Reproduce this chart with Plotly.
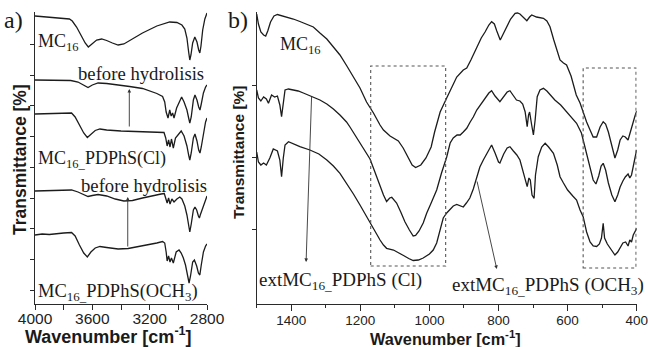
import plotly.graph_objects as go

# ---------------- Panel a) data (wavenumber cm-1, transmittance offset a.u.) ----------------
wn_a1 = [4000, 3950, 3900, 3850, 3800, 3760, 3740, 3710, 3680, 3650, 3628, 3600, 3570, 3535, 3500, 3460,
         3420, 3380, 3330, 3250, 3150, 3060, 3010, 2975, 2955, 2940, 2928, 2920, 2912, 2900, 2885, 2870,
         2858, 2850, 2842, 2830, 2815, 2800]
tr_a1 = [288, 287.5, 287, 286.5, 286, 285, 283, 277, 269, 261, 257, 260, 264, 265, 263.5, 261,
         259, 260, 264, 271, 278, 282, 281.5, 279, 275, 266, 252, 244, 249, 261, 267, 262,
         254, 251, 258, 274, 285, 291]

wn_a2 = [4000, 3900, 3800, 3750, 3700, 3660, 3630, 3600, 3560, 3500, 3400, 3340, 3250, 3200, 3150, 3110,
         3095, 3085, 3072, 3060, 3050, 3040, 3030, 3012, 2990, 2977, 2960, 2940, 2928, 2920, 2910, 2895,
         2884, 2870, 2858, 2849, 2840, 2825, 2810, 2800]
tr_a2 = [224, 224, 224, 223.5, 222, 219, 216.5, 219, 221, 220.5, 219, 217.5, 215.5, 213, 210.5, 207.5,
         202, 192, 186, 194, 188, 191, 186, 196, 204, 207, 202, 194, 186, 181, 187, 204,
         209, 204, 197, 194, 200, 211, 217, 219]

wn_a3 = [4000, 3900, 3800, 3745, 3720, 3690, 3660, 3635, 3610, 3580, 3547, 3500, 3400, 3300, 3200, 3130,
         3100, 3088, 3078, 3068, 3058, 3048, 3035, 3020, 3000, 2980, 2960, 2940, 2928, 2920, 2910, 2895,
         2884, 2870, 2858, 2849, 2840, 2825, 2810, 2800]
tr_a3 = [190, 190.5, 191, 191, 187, 179, 171, 166.5, 170, 173.5, 175, 174, 173, 172.5, 172, 172,
         171.5, 166, 158, 164, 157, 165, 156, 166, 170, 173, 168, 158, 149, 144, 151, 166,
         170, 163, 154, 151, 157, 171, 182, 186]

wn_a4 = [4000, 3900, 3800, 3745, 3700, 3660, 3630, 3600, 3560, 3500, 3440, 3380, 3320, 3250, 3180, 3120,
         3098, 3088, 3078, 3068, 3058, 3045, 3030, 3010, 2990, 2975, 2955, 2940, 2928, 2920, 2910, 2895,
         2884, 2872, 2860, 2853, 2847, 2830, 2815, 2800]
tr_a4 = [113, 113.5, 114, 114, 112, 109, 107.5, 108.5, 109.5, 108, 105, 103, 103.5, 106, 108.5, 110,
         110.5, 105, 101, 106, 100, 105, 102, 105, 107, 105, 98, 89, 78, 72, 80, 94,
         97, 94, 88, 86, 89, 96, 104, 108]

wn_a5 = [4000, 3950, 3900, 3850, 3800, 3745, 3720, 3690, 3660, 3635, 3610, 3580, 3547, 3500, 3420, 3350,
         3250, 3150, 3110, 3095, 3085, 3078, 3068, 3058, 3048, 3035, 3015, 2995, 2980, 2965, 2950, 2935,
         2925, 2915, 2900, 2888, 2872, 2860, 2850, 2840, 2825, 2810, 2800]
tr_a5 = [69, 70, 69.5, 70.5, 71, 71.5, 68, 59, 51, 47, 52, 56, 57.5, 56.5, 55, 55.5,
         58, 61, 62.5, 61, 52, 43, 48, 42, 46, 41, 52, 54, 51, 46, 39, 29,
         21, 28, 42, 44, 38, 31, 29, 39, 52, 58, 60]

# ---------------- Panel b) data ----------------
wn_b1 = [1500, 1495, 1488, 1480, 1474, 1468, 1460, 1450, 1440, 1425, 1410, 1394, 1375, 1355, 1336, 1317,
         1297, 1278, 1259, 1239, 1220, 1201, 1182, 1162, 1143, 1133, 1114, 1100, 1090, 1076, 1060, 1050,
         1040, 1025, 1010, 995, 985, 975, 969, 950, 931, 921, 902, 892, 880, 863, 850, 839,
         828, 820, 812, 805, 795, 785, 776, 765, 752, 745, 738, 728, 718, 710, 704, 690,
         670, 660, 651, 640, 630, 622, 612, 603, 590, 575, 564, 555, 545, 535, 526, 516,
         506, 497, 490, 482, 472, 463, 455, 448, 440, 433, 425, 418, 410, 405, 400]
tr_b1 = [290, 280, 272, 269, 268, 273, 282, 288, 289.5, 288, 287, 285, 282.5, 279.5, 277, 271,
         265, 257, 249, 238, 227, 216, 202, 191, 179, 174, 168, 165, 163, 156, 146, 139,
         136.5, 139, 146, 157, 172, 184, 192, 206, 219, 227, 234, 236, 244, 257, 266, 272,
         279, 282.3, 280, 273, 264, 271, 277.3, 285, 290.7, 291, 290, 287, 283.3, 287, 289, 287,
         285.7, 283, 277.3, 264, 252, 244, 241, 239, 228, 209, 201, 191, 182, 174, 167, 167,
         177, 182.3, 180, 172, 158, 146, 154, 164, 168, 167, 164, 173, 184, 188, 193]

wn_b2 = [1500, 1495, 1488, 1480, 1472, 1466, 1457, 1448, 1440, 1433, 1428, 1423, 1418, 1408, 1394, 1380,
         1365, 1350, 1336, 1317, 1297, 1278, 1259, 1240, 1230, 1215, 1201, 1186, 1172, 1160, 1143, 1133,
         1124, 1115, 1109, 1095, 1083, 1071, 1058, 1047, 1040, 1030, 1018, 1008, 995, 979, 965, 950,
         940, 931, 920, 911, 902, 892, 882, 873, 863, 850, 839, 828, 820, 810, 796, 785,
         775, 767, 758, 748, 738, 730, 723, 717, 713, 710, 704, 699, 694, 688, 680, 670,
         660, 650, 637, 620, 603, 590, 574, 560, 555, 545, 540, 532, 526, 518, 510, 503,
         497, 490, 482, 472, 463, 455, 448, 440, 433, 425, 420, 415, 410, 405, 400]
tr_b2 = [214, 206, 203, 207, 205, 200.7, 209, 207, 208, 199, 187.3, 204, 214, 215, 214, 213,
         211, 209, 207, 204, 200, 195, 189, 182, 177, 169, 161, 153, 145, 134, 117.3, 109,
         102.5, 106, 106.7, 101, 92, 82.3, 74, 68, 68.5, 73, 81, 90.7, 101, 114, 131, 147,
         161, 166, 169, 169, 172, 175.7, 182, 187, 194, 200, 205.7, 211, 213.3, 208, 202.3, 208,
         212, 213.3, 209, 204, 203, 200, 192.3, 177.3, 189, 192, 179, 169, 184, 207.3, 214, 215.7,
         213, 209, 204, 199, 192.3, 187, 180.7, 171, 164, 149, 144, 132, 124, 120, 128, 138,
         140.7, 134, 121, 109, 102.3, 109, 117, 123, 127, 130, 126, 129, 139, 146, 154]

wn_b3 = [1500, 1495, 1488, 1480, 1472, 1462, 1452, 1445, 1440, 1433, 1428, 1423, 1418, 1408, 1394, 1375,
         1346, 1320, 1297, 1278, 1259, 1240, 1220, 1201, 1182, 1162, 1143, 1133, 1124, 1104, 1090, 1075,
         1060, 1047, 1032, 1018, 1000, 989, 979, 969, 960, 950, 940, 931, 921, 912, 902, 893,
         883, 873, 863, 854, 844, 832, 820, 810, 800, 796, 785, 775, 767, 757, 747, 738,
         730, 723, 717, 712, 708, 703, 697, 693, 685, 675, 665, 655, 641, 630, 622, 612,
         600, 585, 574, 564, 555, 545, 535, 526, 516, 508, 502, 497, 493, 485, 475, 463,
         455, 448, 440, 432, 425, 420, 415, 410, 405, 400]
tr_b3 = [152, 142, 139, 141, 139, 146, 155, 154, 153, 144, 127.3, 146, 159, 162.3, 160, 157.3,
         154, 150, 144, 138, 130.7, 121, 110, 99, 87.3, 75, 64, 59, 55.7, 54, 51, 48.5,
         45.5, 43.5, 44, 46, 50, 54, 61, 74, 86, 91, 95, 98, 99.5, 98.5, 97, 101,
         106, 115, 128, 137, 144, 152, 159, 151, 142, 141, 150, 156, 157.3, 153, 149, 144,
         134, 124, 117.3, 126, 124, 109, 105.7, 129, 147.3, 157, 160.7, 157, 150.7, 139, 127.3, 121,
         114, 108, 104, 94, 87.3, 72, 62, 58, 57.5, 60, 66, 80.7, 66, 60, 55, 49,
         52, 57, 61, 62, 58, 64, 62, 69, 73, 75.7]

# labels
tick_a = [4000, 3600, 3200, 2800]
tick_b = [1400, 1200, 1000, 800, 600, 400]

W, H = 648, 347
def px(x):
    return x / W
def py(y):
    return 1 - y / H

LINE = dict(color='#1c1c1c', width=1.3)
fig = go.Figure()
for xs, ys in [(wn_a1, tr_a1), (wn_a2, tr_a2), (wn_a3, tr_a3), (wn_a4, tr_a4), (wn_a5, tr_a5)]:
    fig.add_trace(go.Scatter(x=xs, y=ys, mode='lines', line=LINE, xaxis='x', yaxis='y',
                             showlegend=False, hoverinfo='skip'))
for xs, ys in [(wn_b1, tr_b1), (wn_b2, tr_b2), (wn_b3, tr_b3)]:
    fig.add_trace(go.Scatter(x=xs, y=ys, mode='lines', line=LINE, xaxis='x2', yaxis='y2',
                             showlegend=False, hoverinfo='skip'))

AX = dict(showgrid=False, zeroline=False, showline=True, linecolor='#2a2a2a', linewidth=1.2,
          ticks='outside', tickcolor='#2a2a2a', tickwidth=1, automargin=False)
ydom = [py(304), py(12)]
fig.update_layout(
    template='none',
    width=W, height=H, margin=dict(l=0, r=0, t=0, b=0, pad=0, autoexpand=False),
    paper_bgcolor='white', plot_bgcolor='white',
    xaxis=dict(AX, domain=[px(35), px(207)], range=[4000, 2800], anchor='y',
               tickvals=tick_a, ticklen=5, ticklabelstandoff=-5,
               tickfont=dict(family='Liberation Sans', size=15.5, color='#222'),
               minor=dict(tickvals=[3800, 3400, 3000], ticklen=5, ticks='outside', tickcolor='#2a2a2a')),
    yaxis=dict(AX, domain=ydom, range=[0, 292], anchor='x', showticklabels=False,
               tickvals=[14, 45, 76, 106, 137, 168, 199, 229, 260], ticklen=4),
    xaxis2=dict(AX, domain=[px(256.7), px(636.7)], range=[1500, 400], anchor='y2',
                tickvals=tick_b, ticklen=6, ticklabelstandoff=-2,
                tickfont=dict(family='Liberation Sans', size=13.5, color='#222'),
                minor=dict(tickvals=[1500, 1300, 1100, 900, 700, 500], ticklen=3, ticks='outside',
                           tickcolor='#2a2a2a')),
    yaxis2=dict(AX, domain=ydom, range=[0, 292], anchor='x2', showticklabels=False,
                tickvals=[75, 147, 219], ticklen=4),
)

# dotted boxes in panel b
for x0, x1, y0, y1 in [(1170, 953, 38, 238), (555, 402, 36, 236)]:
    fig.add_shape(type='rect', xref='x2', yref='y2', x0=x0, x1=x1, y0=y0, y1=y1,
                  line=dict(color='#555', width=1.1, dash='dot'))

# arrows
arrows = [('x', 'y', 3342, 176, 3342, 215), ('x', 'y', 3353, 56, 3353, 107),
          ('x2', 'y2', 1341, 209, 1357, 42), ('x2', 'y2', 863, 124, 805, 35)]
for xr, yr, tx, ty, hx, hy in arrows:
    fig.add_annotation(xref=xr, yref=yr, axref=xr, ayref=yr, x=hx, y=hy, ax=tx, ay=ty,
                       text='', showarrow=True, arrowhead=2, arrowsize=0.8, arrowwidth=0.9,
                       arrowcolor='#333', standoff=0, startstandoff=0)

SERIF = 'Liberation Serif'
SANS = 'Liberation Sans'
texts = [
    ('a)', 2, 20, 'left', 24),
    ('b)', 226, 20, 'left', 24),
    ('MC<sub>16</sub>', 36, 42, 'left', 18),
    ('before hydrolisis', 76, 74, 'left', 18.7),
    ('MC<sub>16_</sub>PDPhS(Cl)', 36, 159, 'left', 18),
    ('before hydrolisis', 79, 185, 'left', 18.7),
    ('MC<sub>16_</sub>PDPhS(OCH<sub>3</sub>)', 36, 292, 'left', 18.5),
    ('MC<sub>16</sub>', 278, 45, 'left', 18),
    ('extMC<sub>16_</sub>PDPhS (Cl)', 257, 281, 'left', 19),
    ('extMC<sub>16_</sub>PDPhS (OCH<sub>3</sub>)', 450, 286, 'left', 19),
]
for t, x, y, xa, s in texts:
    fig.add_annotation(xref='paper', yref='paper', x=px(x), y=py(y), text=t, showarrow=False,
                       xanchor=xa, yanchor='middle', font=dict(family=SERIF, size=s, color='#1a1a1a'))

titles = [
    ('<b>Wavenumber [cm<sup>-1</sup>]</b>', 108, 335.5, 0, 18),
    ('<b>Wavenumber [cm<sup>-1</sup>]</b>', 446, 337.5, 0, 16.3),
    ('<b>Transmittance [%]</b>', 20, 160, -90, 17.5),
    ('<b>Transmittance [%]</b>', 238, 152, -90, 15.5),
]
for t, x, y, ang, s in titles:
    fig.add_annotation(xref='paper', yref='paper', x=px(x), y=py(y), text=t, showarrow=False,
                       xanchor='center', yanchor='middle', textangle=ang,
                       font=dict(family=SANS, size=s, color='#1a1a1a'))

fig.write_html('out.html', config={'displayModeBar': False},
               post_script="document.body.style.margin='0';document.body.style.overflow='hidden';")
